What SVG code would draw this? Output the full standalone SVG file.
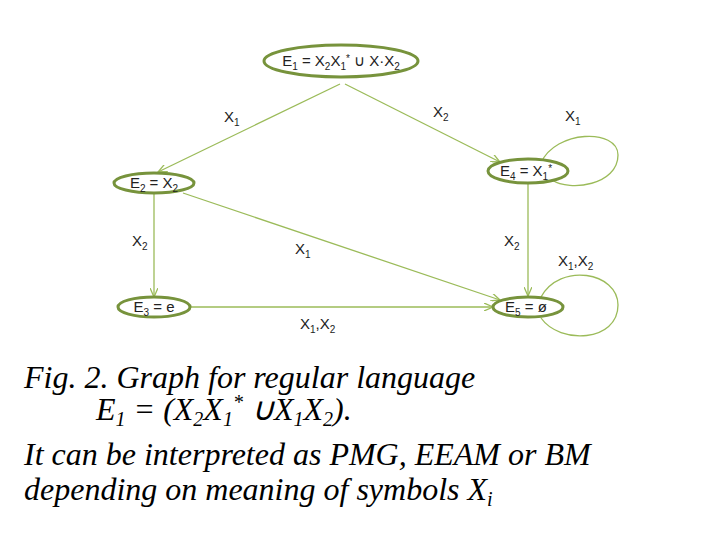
<svg xmlns="http://www.w3.org/2000/svg" width="720" height="540" viewBox="0 0 720 540">
<style>
.n{fill:#fff;stroke:#77933c;stroke-width:3}
.e{fill:none;stroke:#9bbb59;stroke-width:1.3}
.t{font-family:"Liberation Sans",Arial,sans-serif;font-size:15px;fill:#222}
.c{font-family:"Liberation Serif","Times New Roman",serif;font-style:italic;font-size:32px;fill:#000}
</style>
<defs><marker id="a" markerWidth="10" markerHeight="8" refX="9" refY="4" orient="auto" markerUnits="userSpaceOnUse"><path d="M0,0 L9,4 L0,8" fill="none" stroke="#9bbb59" stroke-width="1.3"/></marker></defs>
<rect width="720" height="540" fill="#fff"/>
<g id="edges">
<path class="e" d="M340,84 L158,172" marker-end="url(#a)"/>
<path class="e" d="M345,84 L500,162" marker-end="url(#a)"/>
<path class="e" d="M528,184 L528,296" marker-end="url(#a)"/>
<path class="e" d="M183,193 L500,300" marker-end="url(#a)"/>
<path class="e" d="M154,193 L154,297" marker-end="url(#a)"/>
<path class="e" d="M190,307 L493,307" marker-end="url(#a)"/>
<path class="e" d="M541,163 C555,130 618,128 618,155 C618,185 570,192 552,180"/>
<path class="e" d="M541,297 C560,262 618,272 618,305 C618,342 560,345 541,318"/>
<text class="t" x="224" y="122">X<tspan font-size="10" dy="4">1</tspan></text>
<text class="t" x="433" y="117">X<tspan font-size="10" dy="4">2</tspan></text>
<text class="t" x="565" y="121">X<tspan font-size="10" dy="4">1</tspan></text>
<text class="t" x="132" y="246">X<tspan font-size="10" dy="4">2</tspan></text>
<text class="t" x="295" y="254">X<tspan font-size="10" dy="4">1</tspan></text>
<text class="t" x="504" y="246">X<tspan font-size="10" dy="4">2</tspan></text>
<text class="t" x="558" y="266">X<tspan font-size="10" dy="4">1</tspan><tspan dy="-4">,X</tspan><tspan font-size="10" dy="4">2</tspan></text>
<text class="t" x="300" y="329">X<tspan font-size="10" dy="4">1</tspan><tspan dy="-4">,X</tspan><tspan font-size="10" dy="4">2</tspan></text>
</g>
<g id="E1"><ellipse class="n" cx="341" cy="61" rx="77" ry="16"/><text class="t" x="341" y="66" text-anchor="middle">E<tspan font-size="10" dy="4">1</tspan><tspan dy="-4"> = X</tspan><tspan font-size="10" dy="4">2</tspan><tspan dy="-4">X</tspan><tspan font-size="10" dy="4">1</tspan><tspan font-size="10" dy="-8">*</tspan><tspan dy="4"> ∪ X·X</tspan><tspan font-size="10" dy="4">2</tspan></text></g>
<g id="E2"><ellipse class="n" cx="154" cy="183" rx="40" ry="10"/><text class="t" x="154" y="188" text-anchor="middle">E<tspan font-size="10" dy="4">2</tspan><tspan dy="-4"> = X</tspan><tspan font-size="10" dy="4">2</tspan></text></g>
<g id="E3"><ellipse class="n" cx="154" cy="307" rx="36" ry="10"/><text class="t" x="154" y="312" text-anchor="middle">E<tspan font-size="10" dy="4">3</tspan><tspan dy="-4"> = e</tspan></text></g>
<g id="E4"><ellipse class="n" cx="528" cy="171" rx="40" ry="12"/><text class="t" x="526" y="176" text-anchor="middle">E<tspan font-size="10" dy="4">4</tspan><tspan dy="-4"> = X</tspan><tspan font-size="10" dy="4">1</tspan><tspan font-size="10" dy="-8">*</tspan></text></g>
<g id="E5"><ellipse class="n" cx="528" cy="307" rx="35" ry="10"/><text class="t" x="526" y="312" text-anchor="middle">E<tspan font-size="10" dy="4">5</tspan><tspan dy="-4"> = ø</tspan></text></g>
<g id="caption">
<text class="c" x="24" y="388">Fig. 2. Graph for regular language</text>
<text class="c" x="96" y="420">E<tspan font-size="20" dy="6">1</tspan><tspan dy="-6"> = (X</tspan><tspan font-size="20" dy="6">2</tspan><tspan dy="-6">X</tspan><tspan font-size="20" dy="6">1</tspan><tspan font-size="20" dy="-17">*</tspan><tspan dy="11"> ∪X</tspan><tspan font-size="20" dy="6">1</tspan><tspan dy="-6">X</tspan><tspan font-size="20" dy="6">2</tspan><tspan dy="-6">).</tspan></text>
<text class="c" x="24" y="465">It can be interpreted as PMG, EEAM or BM</text>
<text class="c" x="24" y="500">depending on meaning of symbols X<tspan font-size="20" dy="6">i</tspan></text>
</g>
</svg>
